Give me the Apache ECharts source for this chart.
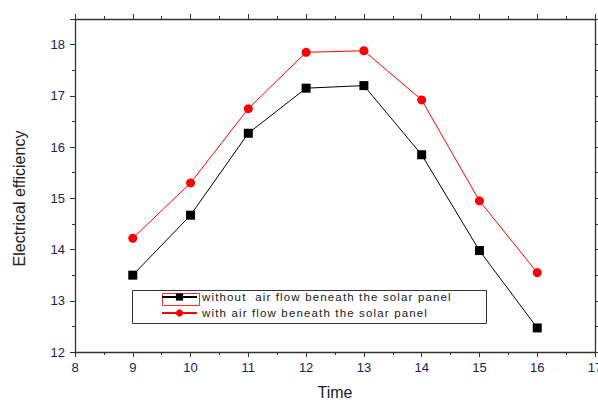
<!DOCTYPE html>
<html>
<head>
<meta charset="utf-8">
<script src="https://cdn.jsdelivr.net/npm/echarts@6/dist/echarts.min.js"></script>
<style>
  html, body { margin: 0; padding: 0; background: #fff; }
  #chart { width: 598px; height: 400px; }
  /* legend text in the figure is spread out a bit */
  #chart text[fill="#202021"] { letter-spacing: 1.15px; }
</style>
</head>
<body>
<div id="chart"></div>
<script>
// values
const hours = [9, 10, 11, 12, 13, 14, 15, 16];
const withoutFlow = [13.5, 14.67, 16.27, 17.15, 17.2, 15.85, 13.98, 12.47];
const withFlow = [14.22, 15.3, 16.75, 17.85, 17.88, 16.92, 14.95, 13.55];
const seriesNames = ['without  air flow beneath the solar panel', 'with air flow beneath the solar panel'];

const labelColor = '#1c1c50';
const axisColor = '#333';

const chart = echarts.init(document.getElementById('chart'), null, { renderer: 'svg' });

const baseX = {
  type: 'value', min: 8, max: 17, interval: 1,
  axisLine: { onZero: false, lineStyle: { color: axisColor, width: 1.3 } },
  splitLine: { show: false },
  axisTick: { show: true, length: 5, lineStyle: { color: axisColor } },
  minorTick: { show: true, splitNumber: 2, length: 3, lineStyle: { color: axisColor } }
};
const baseY = {
  type: 'value', min: 12, max: 18.5, interval: 1,
  axisLine: { onZero: false, lineStyle: { color: axisColor, width: 1.3 } },
  splitLine: { show: false },
  axisTick: { show: true, length: 5, lineStyle: { color: axisColor } },
  minorTick: { show: true, splitNumber: 2, length: 3, lineStyle: { color: axisColor } }
};

chart.setOption({
  animation: false,
  grid: { left: 75, right: 3, top: 19, bottom: 48, outerBoundsMode: 'none' },
  xAxis: [
    Object.assign({}, baseX, {
      position: 'bottom',
      name: 'Time', nameLocation: 'middle', nameGap: 32,
      nameTextStyle: { fontFamily: 'Liberation Sans', fontSize: 16, color: '#222' },
      axisLabel: { fontFamily: 'Liberation Sans', fontSize: 13, color: labelColor, margin: 9 }
    }),
    Object.assign({}, baseX, { position: 'top', axisLabel: { show: false } })
  ],
  yAxis: [
    Object.assign({}, baseY, {
      position: 'left',
      name: 'Electrical efficiency', nameLocation: 'middle', nameGap: 48,
      nameTextStyle: { fontFamily: 'Liberation Sans', fontSize: 16, color: '#222', padding: [0, 26, 0, 0] },
      axisLabel: {
        fontFamily: 'Liberation Sans', fontSize: 13, color: labelColor, margin: 10,
        formatter: v => (Number.isInteger(v) ? String(v) : '')
      }
    }),
    Object.assign({}, baseY, { position: 'right', axisLabel: { show: false } })
  ],
  legend: {
    orient: 'vertical', left: 130, top: 288,
    padding: [3, 14, 3, 31], itemGap: 4,
    itemWidth: 35, itemHeight: 9,
    textStyle: { fontFamily: 'Liberation Sans', fontSize: 11.5, color: '#202021' },
    data: seriesNames
  },
  graphic: [
    {
      type: 'rect', left: 130, top: 288,
      shape: { width: 354, height: 33 },
      style: { fill: 'none', stroke: '#333', lineWidth: 1 }
    },
    {
      type: 'rect', left: 160, top: 291,
      shape: { width: 37, height: 12 },
      style: { fill: 'none', stroke: '#ff3030', lineWidth: 1 }
    }
  ],
  series: [
    {
      name: seriesNames[0], type: 'line',
      data: hours.map((h, i) => [h, withoutFlow[i]]),
      symbol: 'rect', symbolSize: 9,
      itemStyle: { color: '#000' },
      lineStyle: { color: '#000', width: 1 }
    },
    {
      name: seriesNames[1], type: 'line',
      data: hours.map((h, i) => [h, withFlow[i]]),
      symbol: 'circle', symbolSize: 9,
      itemStyle: { color: '#ff0000' },
      lineStyle: { color: '#ff0000', width: 1 }
    }
  ]
});
</script>
</body>
</html>
